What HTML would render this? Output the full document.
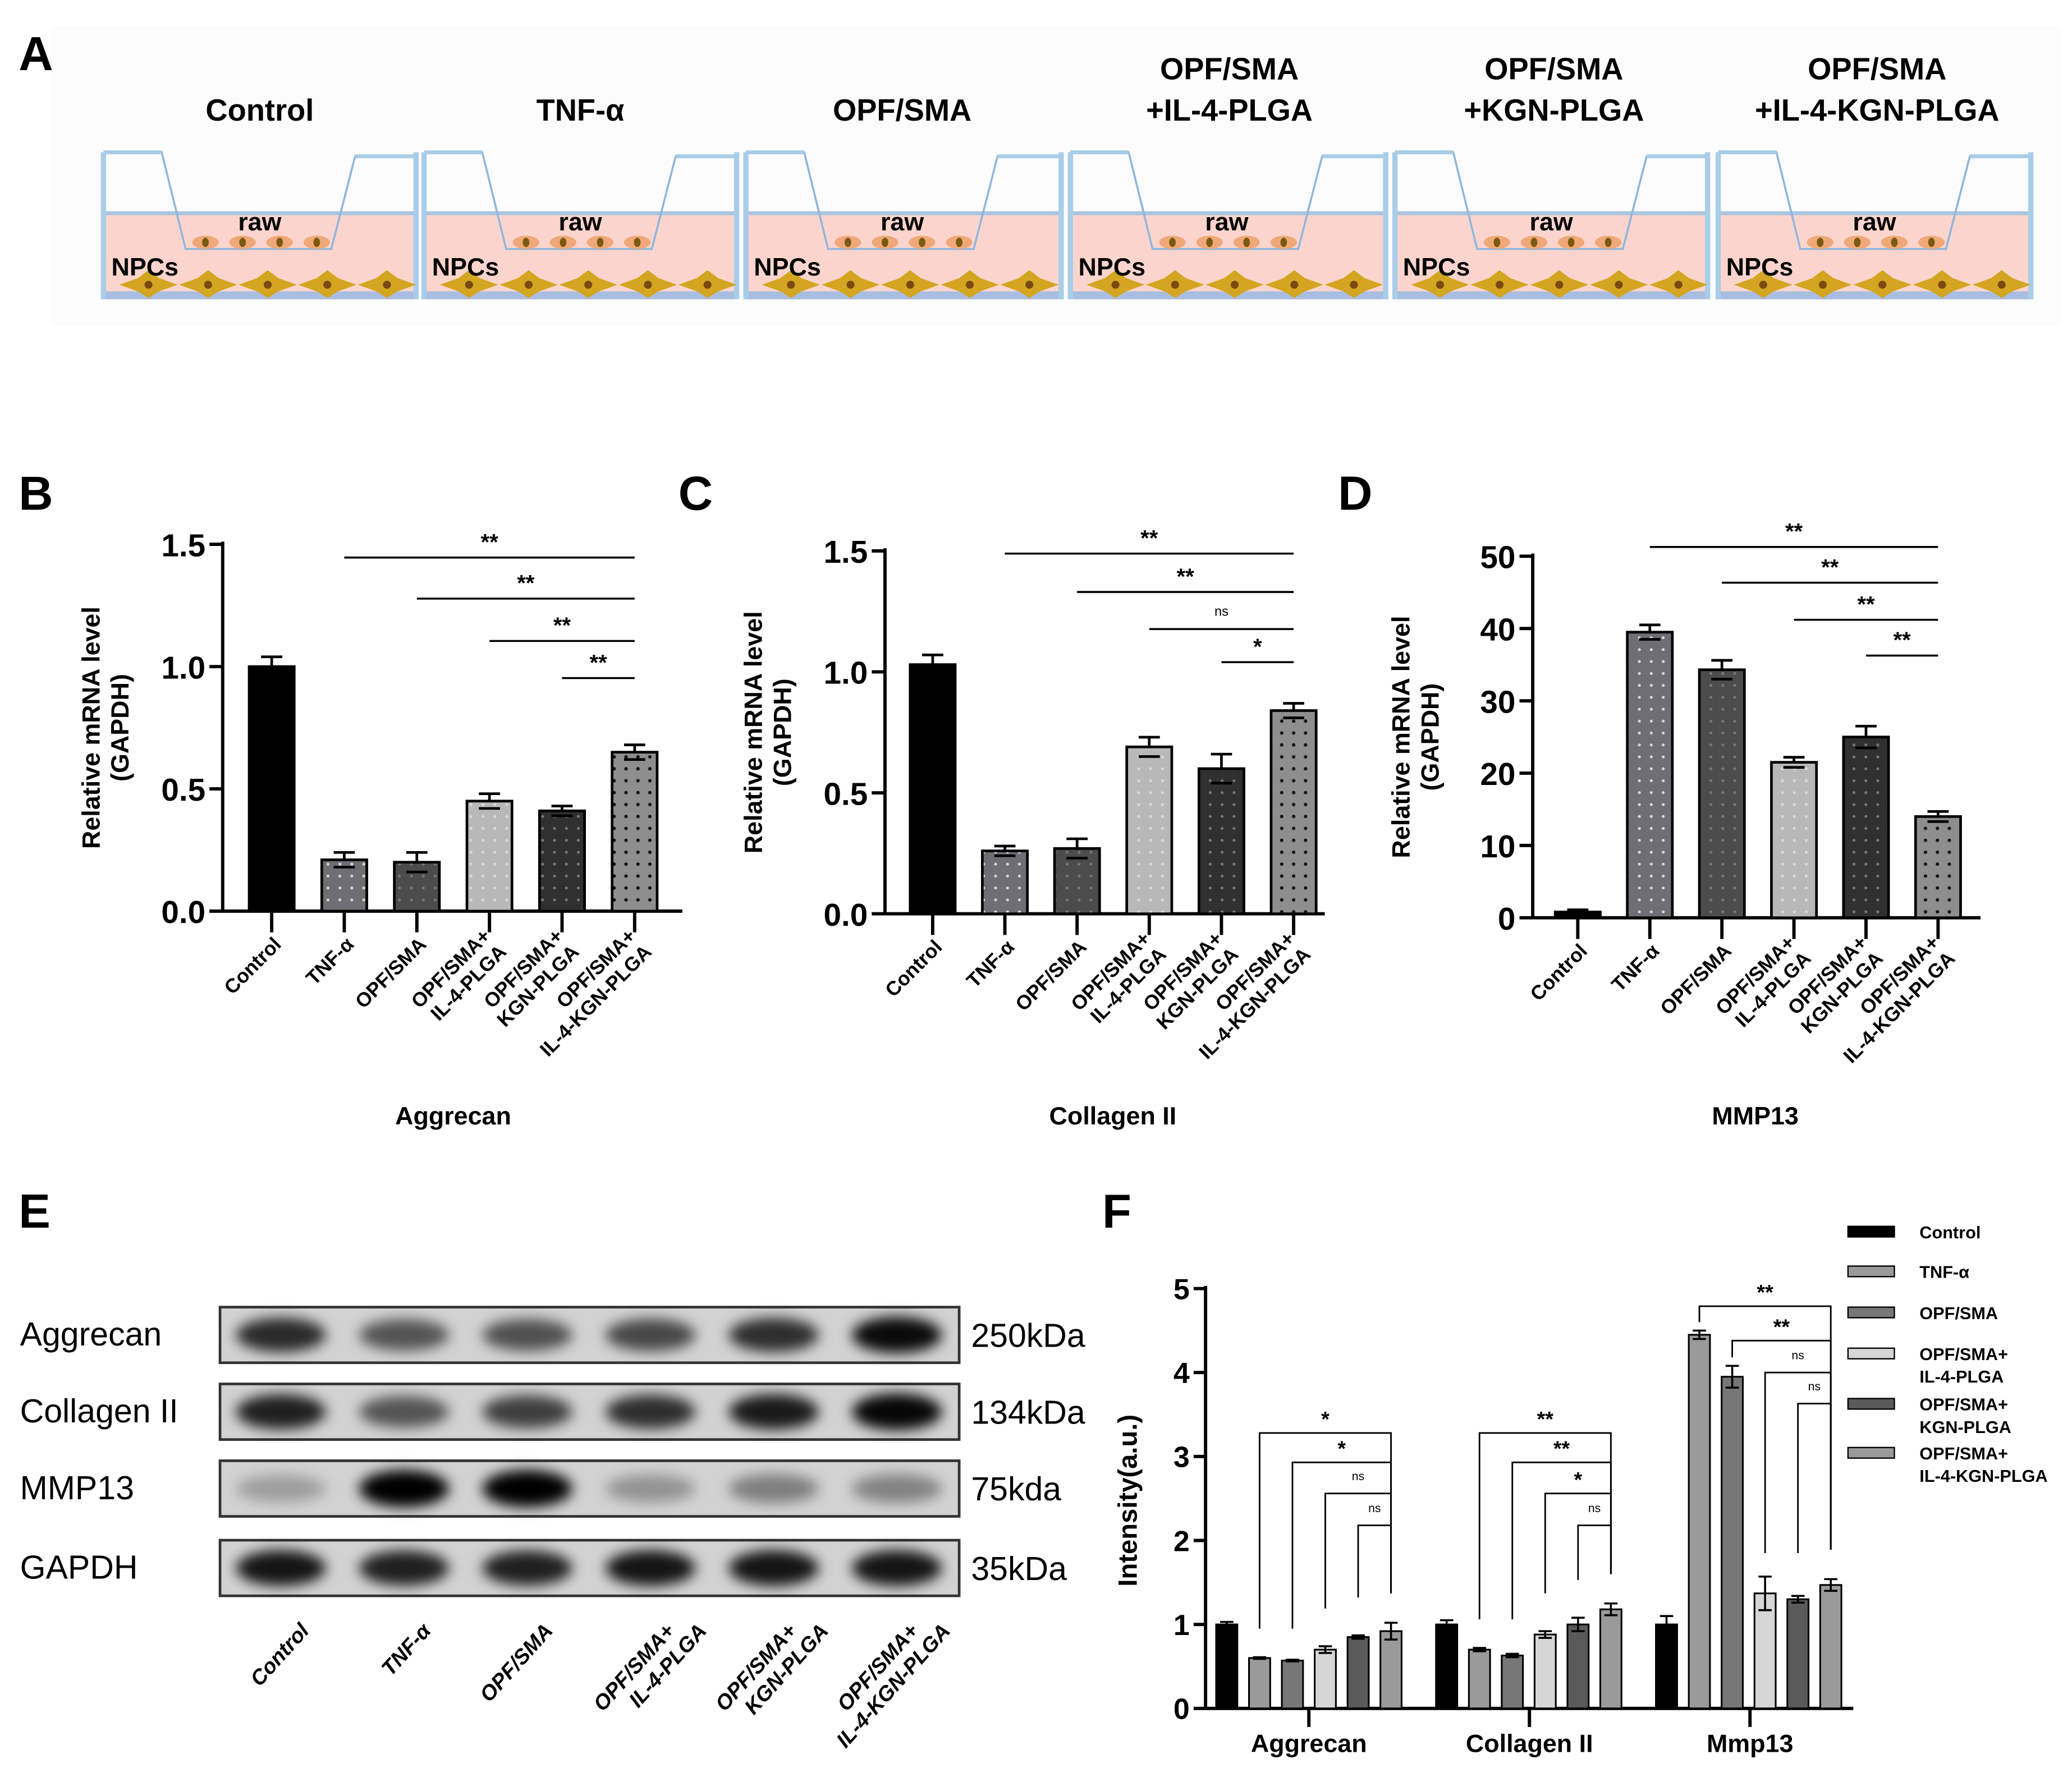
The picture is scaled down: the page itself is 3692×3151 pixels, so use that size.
<!DOCTYPE html>
<html><head><meta charset="utf-8"><style>
html,body{margin:0;padding:0;background:#fff;}
svg{display:block;font-family:"Liberation Sans",Arial,sans-serif;}
</style></head><body>
<svg id="fig" width="3692" height="3151" viewBox="0 0 1564 1335" xmlns="http://www.w3.org/2000/svg">
<defs>
<filter id="blur" x="-50%" y="-50%" width="200%" height="200%"><feGaussianBlur stdDeviation="5"/></filter>
<pattern id="dotL" width="9" height="9" patternUnits="userSpaceOnUse"><circle cx="4.5" cy="4.5" r="1.1" fill="#d8d8d8"/></pattern>
<pattern id="dotD" width="9" height="9" patternUnits="userSpaceOnUse"><circle cx="4.5" cy="4.5" r="1.3" fill="#111"/></pattern>
<pattern id="dotG" width="9" height="9" patternUnits="userSpaceOnUse"><circle cx="4.5" cy="4.5" r="1.1" fill="#777"/></pattern>
</defs>
<rect width="1564" height="1335" fill="#fff"/>
<g id="panelA">
<rect x="38" y="20" width="1518" height="226" fill="#fcfcfc"/>
</g>
<g id="chartB"></g>
<g id="chartC"></g>
<g id="chartD"></g>
<g id="panelE"></g>
<g id="chartF"></g>
</svg>
<script>
const NS="http://www.w3.org/2000/svg";
function mk(p,tag,a,txt){const e=document.createElementNS(NS,tag);for(const k in a)e.setAttribute(k,a[k]);if(txt!==undefined)e.textContent=txt;p.appendChild(e);return e;}

// ---- data ----
const groups=["Control","TNF-α","OPF/SMA","OPF/SMA+ IL-4-PLGA","OPF/SMA+ KGN-PLGA","OPF/SMA+ IL-4-KGN-PLGA"];
const aggValues=[1.0,0.21,0.20,0.45,0.41,0.65];
const aggErrors=[0.04,0.03,0.04,0.03,0.02,0.03];
const aggSig=["**","**","**","**"];
const colValues=[1.03,0.26,0.27,0.69,0.60,0.84];
const colErrors=[0.04,0.02,0.04,0.04,0.06,0.03];
const colSig=["**","**","ns","*"];
const mmpValues=[0.8,39.5,34.3,21.5,25.0,14.0];
const mmpErrors=[0.3,1.0,1.3,0.7,1.5,0.7];
const mmpSig=["**","**","**","**"];
const ticksBC=[0,0.5,1.0,1.5];
const ticksBCLabels=["0.0","0.5","1.0","1.5"];
const ticksD=[0,10,20,30,40,50];
const fGroups=["Aggrecan","Collagen II","Mmp13"];
const fAgg=[1.0,0.6,0.57,0.7,0.85,0.92];
const fAggErr=[0.03,0.01,0.01,0.04,0.02,0.1];
const fCol=[1.0,0.7,0.63,0.88,1.0,1.18];
const fColErr=[0.05,0.02,0.02,0.04,0.08,0.07];
const fMmp=[1.0,4.45,3.95,1.37,1.3,1.47];
const fMmpErr=[0.1,0.05,0.13,0.2,0.04,0.07];
const fTicks=[0,1,2,3,4,5];
const fSigAgg=["*","*","ns","ns"];
const fSigCol=["**","**","*","ns"];
const fSigMmp=["**","**","ns","ns"];
const fLevelsAgg=[3.28,2.93,2.56,2.18];
const fLevelsCol=[3.28,2.93,2.56,2.18];
const fLevelsMmp=[4.79,4.38,4.0,3.63];
const bandAgg=[0.8,0.6,0.62,0.66,0.78,0.95];
const bandCol=[0.85,0.6,0.7,0.78,0.88,0.97];
const bandMmp=[0.25,1.0,1.0,0.3,0.4,0.38];
const bandGapdh=[0.9,0.85,0.85,0.9,0.9,0.9];

// ---- panel A ----
(function(){
 const g=document.getElementById('panelA');
 const L=mk(g,'text',{x:14,y:53,'font-size':36,'font-weight':'bold'},'A');
 
 const titles=[["Control"],["TNF-α"],["OPF/SMA"],["OPF/SMA","+IL-4-PLGA"],["OPF/SMA","+KGN-PLGA"],["OPF/SMA","+IL-4-KGN-PLGA"]];
 const wx=[78,320,563,808,1053,1297];
 wx.forEach((x,i)=>{
  const w=i==2||i==3?238:236;
  const cx=x+118;
  const t=titles[i];
  t.forEach((s,j)=>{const tt=mk(g,'text',{x:cx+(i>2?2:0),y:(t.length==1?91:60+31*j),'font-size':23,'font-weight':'bold','text-anchor':'middle'},s);
   });
  const well=mk(g,'g',{});
  
  mk(well,'rect',{x:x,y:161,width:w,height:64,fill:'#fbd5cd'});
  mk(well,'line',{x1:x,y1:161,x2:x+w,y2:161,stroke:'#a9c4e0','stroke-width':3});
  mk(well,'rect',{x:x,y:220,width:w,height:6,fill:'#a9bde0'});
  mk(well,'line',{x1:x,y1:115,x2:x,y2:226,stroke:'#a9cde8','stroke-width':4});
  mk(well,'line',{x1:x+w,y1:115,x2:x+w,y2:226,stroke:'#a9cde8','stroke-width':4});
  mk(well,'polyline',{points:`${x},115 ${x+44},115 ${x+62},188 ${x+172},188 ${x+190},118 ${x+w},118`,fill:'none',stroke:'#8fb6dc','stroke-width':1.5});
  mk(well,'line',{x1:x,y1:115,x2:x+44,y2:115,stroke:'#a9cde8','stroke-width':3});
  mk(well,'line',{x1:x+190,y1:118,x2:x+w,y2:118,stroke:'#a9cde8','stroke-width':3});
  for(let k=0;k<4;k++){mk(well,'ellipse',{cx:x+77+k*28,cy:183,rx:10,ry:5,fill:'#f0a878'});mk(well,'ellipse',{cx:x+77+k*28,cy:183,rx:2.5,ry:3.5,fill:'#7a5a10'});}
  for(let k=0;k<5;k++){const bx=x+12+k*45;mk(well,'polygon',{points:`${bx},215 ${bx+14},210 ${bx+22},204 ${bx+30},210 ${bx+44},215 ${bx+30},220 ${bx+22},225 ${bx+14},220`,fill:'#d4a520'});mk(well,'circle',{cx:bx+22,cy:215,r:3,fill:'#7a4a10'});}
  const r=mk(g,'text',{x:x+118,y:174,'font-size':19,'font-weight':'bold','text-anchor':'middle'},'raw');
  
  const n=mk(g,'text',{x:x+6,y:208,'font-size':19,'font-weight':'bold'},'NPCs');
  
 });
})();

// ---- B/C/D bar charts ----
const fills=['#000','#6e6e74','#4c4c4c','#b8b8b8','#303030','#8e8e8e'];
const pats=[null,'url(#dotL)','url(#dotG)','url(#dotL)','url(#dotG)','url(#dotD)'];
function barChart(gid,o){
 const g=document.getElementById(gid);
 const yS=v=>o.y0-(v-0)/(o.ymax)*(o.y0-o.yTop);
 const lab=mk(g,'text',{x:o.lx,y:385,'font-size':36,'font-weight':'bold'},o.letter);
 
 mk(g,'line',{x1:o.ax,y1:o.yTop-2,x2:o.ax,y2:o.y0,stroke:'#000','stroke-width':2.5});
 mk(g,'line',{x1:o.ax,y1:o.y0,x2:o.xEnd,y2:o.y0,stroke:'#000','stroke-width':2.5});
 o.ticks.forEach((t,i)=>{
  mk(g,'line',{x1:o.ax-10,y1:yS(t),x2:o.ax,y2:yS(t),stroke:'#000','stroke-width':2.5});
  const tl=mk(g,'text',{x:o.ax-13,y:yS(t)+9,'font-size':24,'font-weight':'bold','text-anchor':'end'},o.tickLabels[i]);
  
 });
 const yt=mk(g,'text',{transform:`translate(${o.ax-93},${(o.y0+o.yTop)/2}) rotate(-90)`,'font-size':19,'font-weight':'bold','text-anchor':'middle'});
 
 mk(yt,'tspan',{x:0,dy:0},'Relative mRNA level');mk(yt,'tspan',{x:0,dy:22},'(GAPDH)');
 o.values.forEach((v,i)=>{
  const cx=o.x0+i*o.step, w=34;
  const b=mk(g,'rect',{x:cx-w/2,y:yS(v),width:w,height:o.y0-yS(v),fill:fills[i],stroke:'#000','stroke-width':2});
  
  if(pats[i])mk(g,'rect',{x:cx-w/2+1,y:yS(v)+1,width:w-2,height:Math.max(0,o.y0-yS(v)-2),fill:pats[i]});
  const e=o.errors[i];
  const eb=mk(g,'path',{d:`M${cx},${yS(v+e)}V${yS(v)} M${cx-8},${yS(v+e)}H${cx+8} M${cx-8},${yS(v-e)}H${cx+8}`,stroke:'#000','stroke-width':2,fill:'none'});
  
  mk(g,'line',{x1:cx,y1:o.y0,x2:cx,y2:o.y0+16,stroke:'#000','stroke-width':2.5});
  const parts=groups[i].split(' ');
  const xl=mk(g,'text',{transform:`translate(${cx+8},${o.y0+26}) rotate(-45)`,'font-size':15,'font-weight':'bold','text-anchor':'end'});
  
  parts.forEach((p,j)=>mk(xl,'tspan',{x:0,dy:j?17:(parts.length>1?-9:0)},p));
 });
 o.sigY.forEach((y,k)=>{
  const xs=o.x0+(k+1)*o.step, xe=o.x0+5*o.step;
  const l=mk(g,'line',{x1:xs,y1:y,x2:xe,y2:y,stroke:'#000','stroke-width':1.5});
  
  const s=o.sig[k];
  const st=mk(g,'text',{x:(xs+xe)/2,y:s=='ns'?y-10:y-6,'font-size':s=='ns'?10:17,'font-weight':s=='ns'?'normal':'bold','text-anchor':'middle'},s);
  
 });
 const tt=mk(g,'text',{x:o.titleX,y:849,'font-size':19,'font-weight':'bold','text-anchor':'middle'},o.title);
 
}
barChart('chartB',{letter:'B',lx:14,ax:168,y0:688,yTop:411,ymax:1.5,xEnd:515,x0:205,step:54.8,values:aggValues,errors:aggErrors,ticks:ticksBC,tickLabels:ticksBCLabels,sig:aggSig,sigY:[421,452,484,512],title:'Aggrecan',titleX:342});
barChart('chartC',{letter:'C',lx:512,ax:668,y0:690,yTop:416,ymax:1.5,xEnd:1000,x0:704,step:54.5,values:colValues,errors:colErrors,ticks:ticksBC,tickLabels:ticksBCLabels,sig:colSig,sigY:[418,447,475,500],title:'Collagen II',titleX:840});
barChart('chartD',{letter:'D',lx:1010,ax:1157,y0:693,yTop:420,ymax:50,xEnd:1495,x0:1191,step:54.4,values:mmpValues,errors:mmpErrors,ticks:ticksD,tickLabels:ticksD.map(String),sig:mmpSig,sigY:[413,440,468,495],title:'MMP13',titleX:1325});

// ---- panel E ----
(function(){
 const g=document.getElementById('panelE');
 const L=mk(g,'text',{x:14,y:927,'font-size':36,'font-weight':'bold'},'E');
 
 const rows=[["Aggrecan","250kDa",987,bandAgg],["Collagen II","134kDa",1045,bandCol],["MMP13","75kda",1103,bandMmp],["GAPDH","35kDa",1163,bandGapdh]];
 rows.forEach(r=>{
  const strip=mk(g,'g',{});
  
  mk(strip,'rect',{x:166,y:r[2],width:558,height:42,fill:'#d2d2d2',stroke:'#333','stroke-width':2});
  r[3].forEach((v,i)=>{
   const cx=212+i*93;
   mk(strip,'ellipse',{cx:cx,cy:r[2]+21,rx:34,ry:9+v*5,fill:'#000','fill-opacity':v,filter:'url(#blur)'});
  });
  const t=mk(g,'text',{x:15,y:r[2]+29,'font-size':25},r[0]);
  
  const k=mk(g,'text',{x:733,y:r[2]+30,'font-size':25},r[1]);
  
 });
 groups.forEach((s,i)=>{
  const cx=234+i*92;
  const parts=s.split(' ');
  const t=mk(g,'text',{transform:`translate(${cx},${1232}) rotate(-48)`,'font-size':16,'font-weight':'bold','font-style':'italic','text-anchor':'end'});
  
  parts.forEach((p,j)=>mk(t,'tspan',{x:j?16:0,dy:j?18:0},p));
 });
})();

// ---- panel F ----
(function(){
 const g=document.getElementById('chartF');
 const y0=1290,yTop=973,ax=910;
 const yS=v=>y0-v/5*(y0-yTop);
 const L=mk(g,'text',{x:832,y:927,'font-size':36,'font-weight':'bold'},'F');
 
 mk(g,'line',{x1:ax,y1:yTop-2,x2:ax,y2:y0,stroke:'#000','stroke-width':2.5});
 mk(g,'line',{x1:ax,y1:y0,x2:1399,y2:y0,stroke:'#000','stroke-width':2.5});
 fTicks.forEach(t=>{
  mk(g,'line',{x1:ax-9,y1:yS(t),x2:ax,y2:yS(t),stroke:'#000','stroke-width':2.5});
  const tl=mk(g,'text',{x:ax-12,y:yS(t)+8,'font-size':22,'font-weight':'bold','text-anchor':'end'},String(t));
  
 });
 const yt=mk(g,'text',{transform:`translate(858,1133) rotate(-90)`,'font-size':20,'font-weight':'bold','text-anchor':'middle'},'Intensity(a.u.)');
 
 const fcol=['#000','#9a9a9a','#777','#d6d6d6','#5a5a5a','#9a9a9a'];
 const sets=[[fAgg,fAggErr,fSigAgg,fLevelsAgg],[fCol,fColErr,fSigCol,fLevelsCol],[fMmp,fMmpErr,fSigMmp,fLevelsMmp]];
 sets.forEach((s,gi)=>{
  const base=926+gi*166;
  const xc=i=>base+i*24.8;
  s[0].forEach((v,i)=>{
   const b=mk(g,'rect',{x:xc(i)-8,y:yS(v),width:16,height:y0-yS(v),fill:fcol[i],stroke:'#000','stroke-width':1.3});
   
   const e=s[1][i];
   const eb=mk(g,'path',{d:`M${xc(i)},${yS(v+e)}V${yS(v-e)} M${xc(i)-5},${yS(v+e)}H${xc(i)+5} M${xc(i)-5},${yS(v-e)}H${xc(i)+5}`,stroke:'#000','stroke-width':1.5,fill:'none'});
   
  });
  const xr=xc(5);
  const rightBottom=Math.max(s[0][5]+s[1][5]+0.35,1.3);
  s[3].forEach((lv,k)=>{
   const i=k+1;
   const top=s[0][i]+s[1][i]+0.1;
   const lb=gi==2?(k<2?top:1.85):(k<2?Math.max(top,0.95+(gi?0.11:0)):Math.max(top+0.35,1.06+(k-2)*0.11));
   const br=mk(g,'path',{d:`M${xc(i)},${yS(lb)}V${yS(lv)}H${xr}V${yS(rightBottom)}`,stroke:'#000','stroke-width':1.2,fill:'none'});
   
   const lab=s[2][k];
   const st=mk(g,'text',{x:(xc(i)+xr)/2,y:yS(lv)-(lab=='ns'?10:5),'font-size':lab=='ns'?9:16,'font-weight':lab=='ns'?'normal':'bold','text-anchor':'middle'},lab);
   
  });
  const gc=988+gi*166.5;
  mk(g,'line',{x1:gc,y1:y0,x2:gc,y2:y0+14,stroke:'#000','stroke-width':2.5});
  const gl=mk(g,'text',{x:gc,y:1323,'font-size':19,'font-weight':'bold','text-anchor':'middle'},fGroups[gi]);
  
 });
 const legY=[930,960,991,1022,1060,1097];
 groups.forEach((s,i)=>{
  const le=mk(g,'g',{});
  
  mk(le,'rect',{x:1395,y:legY[i]-4,width:35,height:8,fill:fcol[i],stroke:'#000','stroke-width':1});
  const parts=s.split(' ');
  const t=mk(le,'text',{x:1449,y:legY[i]+5,'font-size':13,'font-weight':'bold'});
  parts.forEach((p,j)=>mk(t,'tspan',{x:1449,dy:j?17:0},p));
 });
})();
</script>
</body></html>
